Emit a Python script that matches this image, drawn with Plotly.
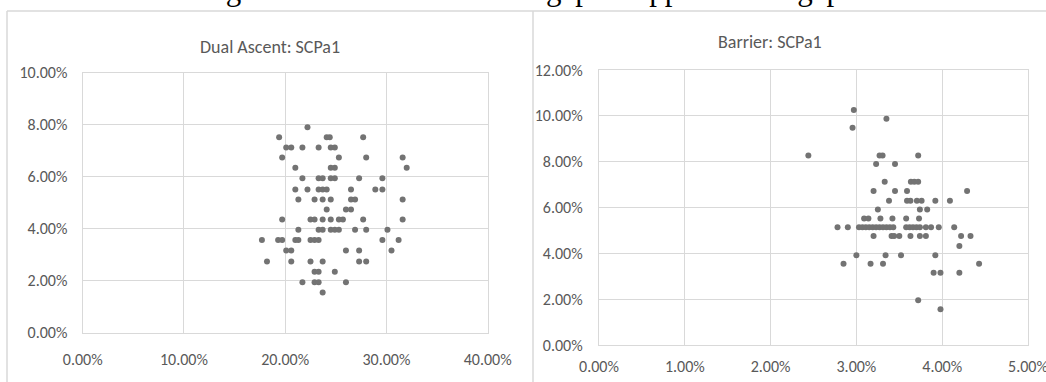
import plotly.graph_objects as go

# ---------------- data (values in percent) ----------------
# Dual Ascent: SCPa1  (x = upper bound gap, y = lower bound gap)
da_x = [22.2,
        19.4, 24.1, 24.4, 27.7,
        20.1, 20.6, 21.7, 23.3, 24.5, 24.9,
        19.7, 25.3, 28.0, 31.6,
        21.0, 24.5, 24.9, 32.0,
        21.7, 23.3, 23.7, 24.5, 24.9, 27.3, 29.6,
        21.0, 22.2, 23.3, 23.7, 24.1, 26.5, 28.9, 29.6,
        21.3, 22.9, 23.7, 24.5, 26.5, 26.9, 31.6,
        24.1, 26.0, 26.5,
        19.7, 22.5, 22.9, 23.7, 24.5, 25.3, 25.7, 27.7, 31.6,
        21.3, 23.3, 23.7, 24.5, 24.9, 25.3, 26.9, 28.0, 30.1,
        17.7, 19.3, 19.7, 21.0, 21.3, 22.5, 22.9, 23.3, 29.6, 31.2,
        20.1, 20.6, 26.0, 27.3, 30.5,
        18.2, 20.6, 22.5, 23.7, 27.3, 28.0,
        22.9, 23.3, 24.9,
        21.7, 22.9, 23.3, 26.0,
        23.7]
da_y = [7.90,
        7.52, 7.52, 7.52, 7.52,
        7.12, 7.12, 7.12, 7.12, 7.12, 7.12,
        6.74, 6.74, 6.74, 6.74,
        6.34, 6.34, 6.34, 6.34,
        5.94, 5.94, 5.94, 5.94, 5.94, 5.94, 5.94,
        5.51, 5.51, 5.51, 5.51, 5.51, 5.51, 5.51, 5.51,
        5.12, 5.12, 5.12, 5.12, 5.12, 5.12, 5.12,
        4.74, 4.74, 4.74,
        4.35, 4.35, 4.35, 4.35, 4.35, 4.35, 4.35, 4.35, 4.35,
        3.96, 3.96, 3.96, 3.96, 3.96, 3.96, 3.96, 3.96, 3.96,
        3.57, 3.57, 3.57, 3.57, 3.57, 3.57, 3.57, 3.57, 3.57, 3.57,
        3.16, 3.16, 3.16, 3.16, 3.16,
        2.74, 2.74, 2.74, 2.74, 2.74, 2.74,
        2.34, 2.34, 2.34,
        1.94, 1.94, 1.94, 1.94,
        1.55]

# Barrier: SCPa1
br_x = [2.97,
        3.35,
        2.955,
        2.44, 3.27, 3.305, 3.72,
        3.23, 3.45,
        3.33, 3.635, 3.675, 3.72,
        3.20, 3.45, 3.59, 4.29,
        3.38, 3.59, 3.63, 3.705, 3.76, 3.92, 4.09,
        3.25, 3.74, 3.825,
        3.09, 3.14, 3.28, 3.42, 3.58, 3.73,
        2.78, 2.90, 3.03, 3.07, 3.11, 3.15, 3.19, 3.23, 3.27, 3.31, 3.35,
        3.39, 3.43, 3.58, 3.62, 3.66, 3.70, 3.74, 3.81, 3.87, 3.96, 4.14,
        3.20, 3.41, 3.44, 3.50, 3.63, 3.74, 3.81, 4.22, 4.33,
        4.20,
        3.00, 3.34, 3.52, 3.92,
        2.85, 3.165, 3.31, 4.43,
        3.90, 3.98, 4.20,
        3.72,
        3.98]
br_y = [10.26,
        9.87,
        9.48,
        8.27, 8.27, 8.27, 8.27,
        7.90, 7.90,
        7.13, 7.13, 7.13, 7.13,
        6.73, 6.73, 6.73, 6.73,
        6.30, 6.30, 6.30, 6.30, 6.30, 6.30, 6.30,
        5.92, 5.92, 5.92,
        5.53, 5.53, 5.53, 5.53, 5.53, 5.53,
        5.15, 5.15, 5.15, 5.15, 5.15, 5.15, 5.15, 5.15, 5.15, 5.15, 5.15,
        5.15, 5.15, 5.15, 5.15, 5.15, 5.15, 5.15, 5.15, 5.15, 5.15, 5.15,
        4.76, 4.76, 4.76, 4.76, 4.76, 4.76, 4.76, 4.76, 4.76,
        4.33,
        3.93, 3.93, 3.93, 3.93,
        3.56, 3.56, 3.56, 3.56,
        3.16, 3.16, 3.16,
        1.96,
        1.57]

da_xticks = [0, 10, 20, 30, 40]
da_yticks = [0, 2, 4, 6, 8, 10]
br_xticks = [0, 1, 2, 3, 4, 5]
br_yticks = [0, 2, 4, 6, 8, 10, 12]

fig_title = "Figure 2: SCP lower bound gap vs upper bound gap"
da_title = "Dual Ascent: SCPa1"
br_title = "Barrier: SCPa1"

def pct_labels(vals):
    return [f"{v:.2f}%" for v in vals]

# ---------------- layout helpers ----------------
W, H = 1046, 382
def px(x):
    return x / W
def py(y):
    return 1 - y / H

FONT = "Carlito, Lato, Liberation Sans, sans-serif"
TXT = "#595959"
GRID = "#d9d9d9"
MARK = "#737373"

fig = go.Figure()
fig.add_trace(go.Scatter(x=da_x, y=da_y, mode="markers", xaxis="x", yaxis="y",
                         marker=dict(color=MARK, size=6), showlegend=False))
fig.add_trace(go.Scatter(x=br_x, y=br_y, mode="markers", xaxis="x2", yaxis="y2",
                         marker=dict(color=MARK, size=6), showlegend=False))

axis_common = dict(showgrid=True, gridcolor=GRID, gridwidth=1.3, zeroline=False,
                   showline=True, linecolor=GRID, linewidth=1.3, mirror=True,
                   ticks="", automargin=False, tickmode="array",
                   ticklabeloverflow="allow",
                   tickfont=dict(family=FONT, size=16, color=TXT), fixedrange=True)

fig.update_layout(
    width=W, height=H,
    margin=dict(l=0, r=0, t=0, b=0),
    paper_bgcolor="white", plot_bgcolor="white",
    template="none",
    xaxis=dict(domain=[px(82.7), px(487.7)], range=[0, 40], tickvals=da_xticks,
               ticktext=pct_labels(da_xticks),
               anchor="y", ticklabelstandoff=12, **axis_common),
    yaxis=dict(domain=[py(332.7), py(72.7)], range=[0, 10], tickvals=da_yticks,
               ticktext=pct_labels(da_yticks),
               anchor="x", ticklabelstandoff=11, **axis_common),
    xaxis2=dict(domain=[px(599), px(1028)], range=[0, 5], tickvals=br_xticks,
                ticktext=pct_labels(br_xticks),
                anchor="y2", ticklabelstandoff=6, **axis_common),
    yaxis2=dict(domain=[py(345.3), py(70)], range=[0, 12], tickvals=br_yticks,
                ticktext=pct_labels(br_yticks),
                anchor="x2", ticklabelstandoff=12, **axis_common),
)

# panel borders
BORDER = "#d9d9d9"
fig.add_shape(type="line", xref="paper", yref="paper", x0=px(7), x1=1.01, y0=py(11), y1=py(11),
              line=dict(color=BORDER, width=1.5))
fig.add_shape(type="line", xref="paper", yref="paper", x0=px(7), x1=px(7), y0=py(11), y1=-0.01,
              line=dict(color=BORDER, width=1.5))
fig.add_shape(type="line", xref="paper", yref="paper", x0=px(533), x1=px(533), y0=py(11), y1=-0.01,
              line=dict(color=BORDER, width=1.5))

# titles
fig.add_annotation(text=da_title, xref="paper", yref="paper", x=px(270.3), y=py(47.5),
                   xanchor="center", yanchor="middle", showarrow=False,
                   font=dict(family=FONT, size=18, color=TXT))
fig.add_annotation(text=br_title, xref="paper", yref="paper", x=px(770.3), y=py(42.2),
                   xanchor="center", yanchor="middle", showarrow=False,
                   font=dict(family=FONT, size=18, color=TXT))
fig.add_annotation(text=fig_title, xref="paper", yref="paper", x=px(521), y=py(9),
                   xanchor="center", yanchor="bottom", showarrow=False,
                   font=dict(family="Liberation Serif, DejaVu Serif, serif", size=31, color="black"))

fig.write_html("out.html", config={"displayModeBar": False},
               post_script="document.body.style.margin='0px';")
